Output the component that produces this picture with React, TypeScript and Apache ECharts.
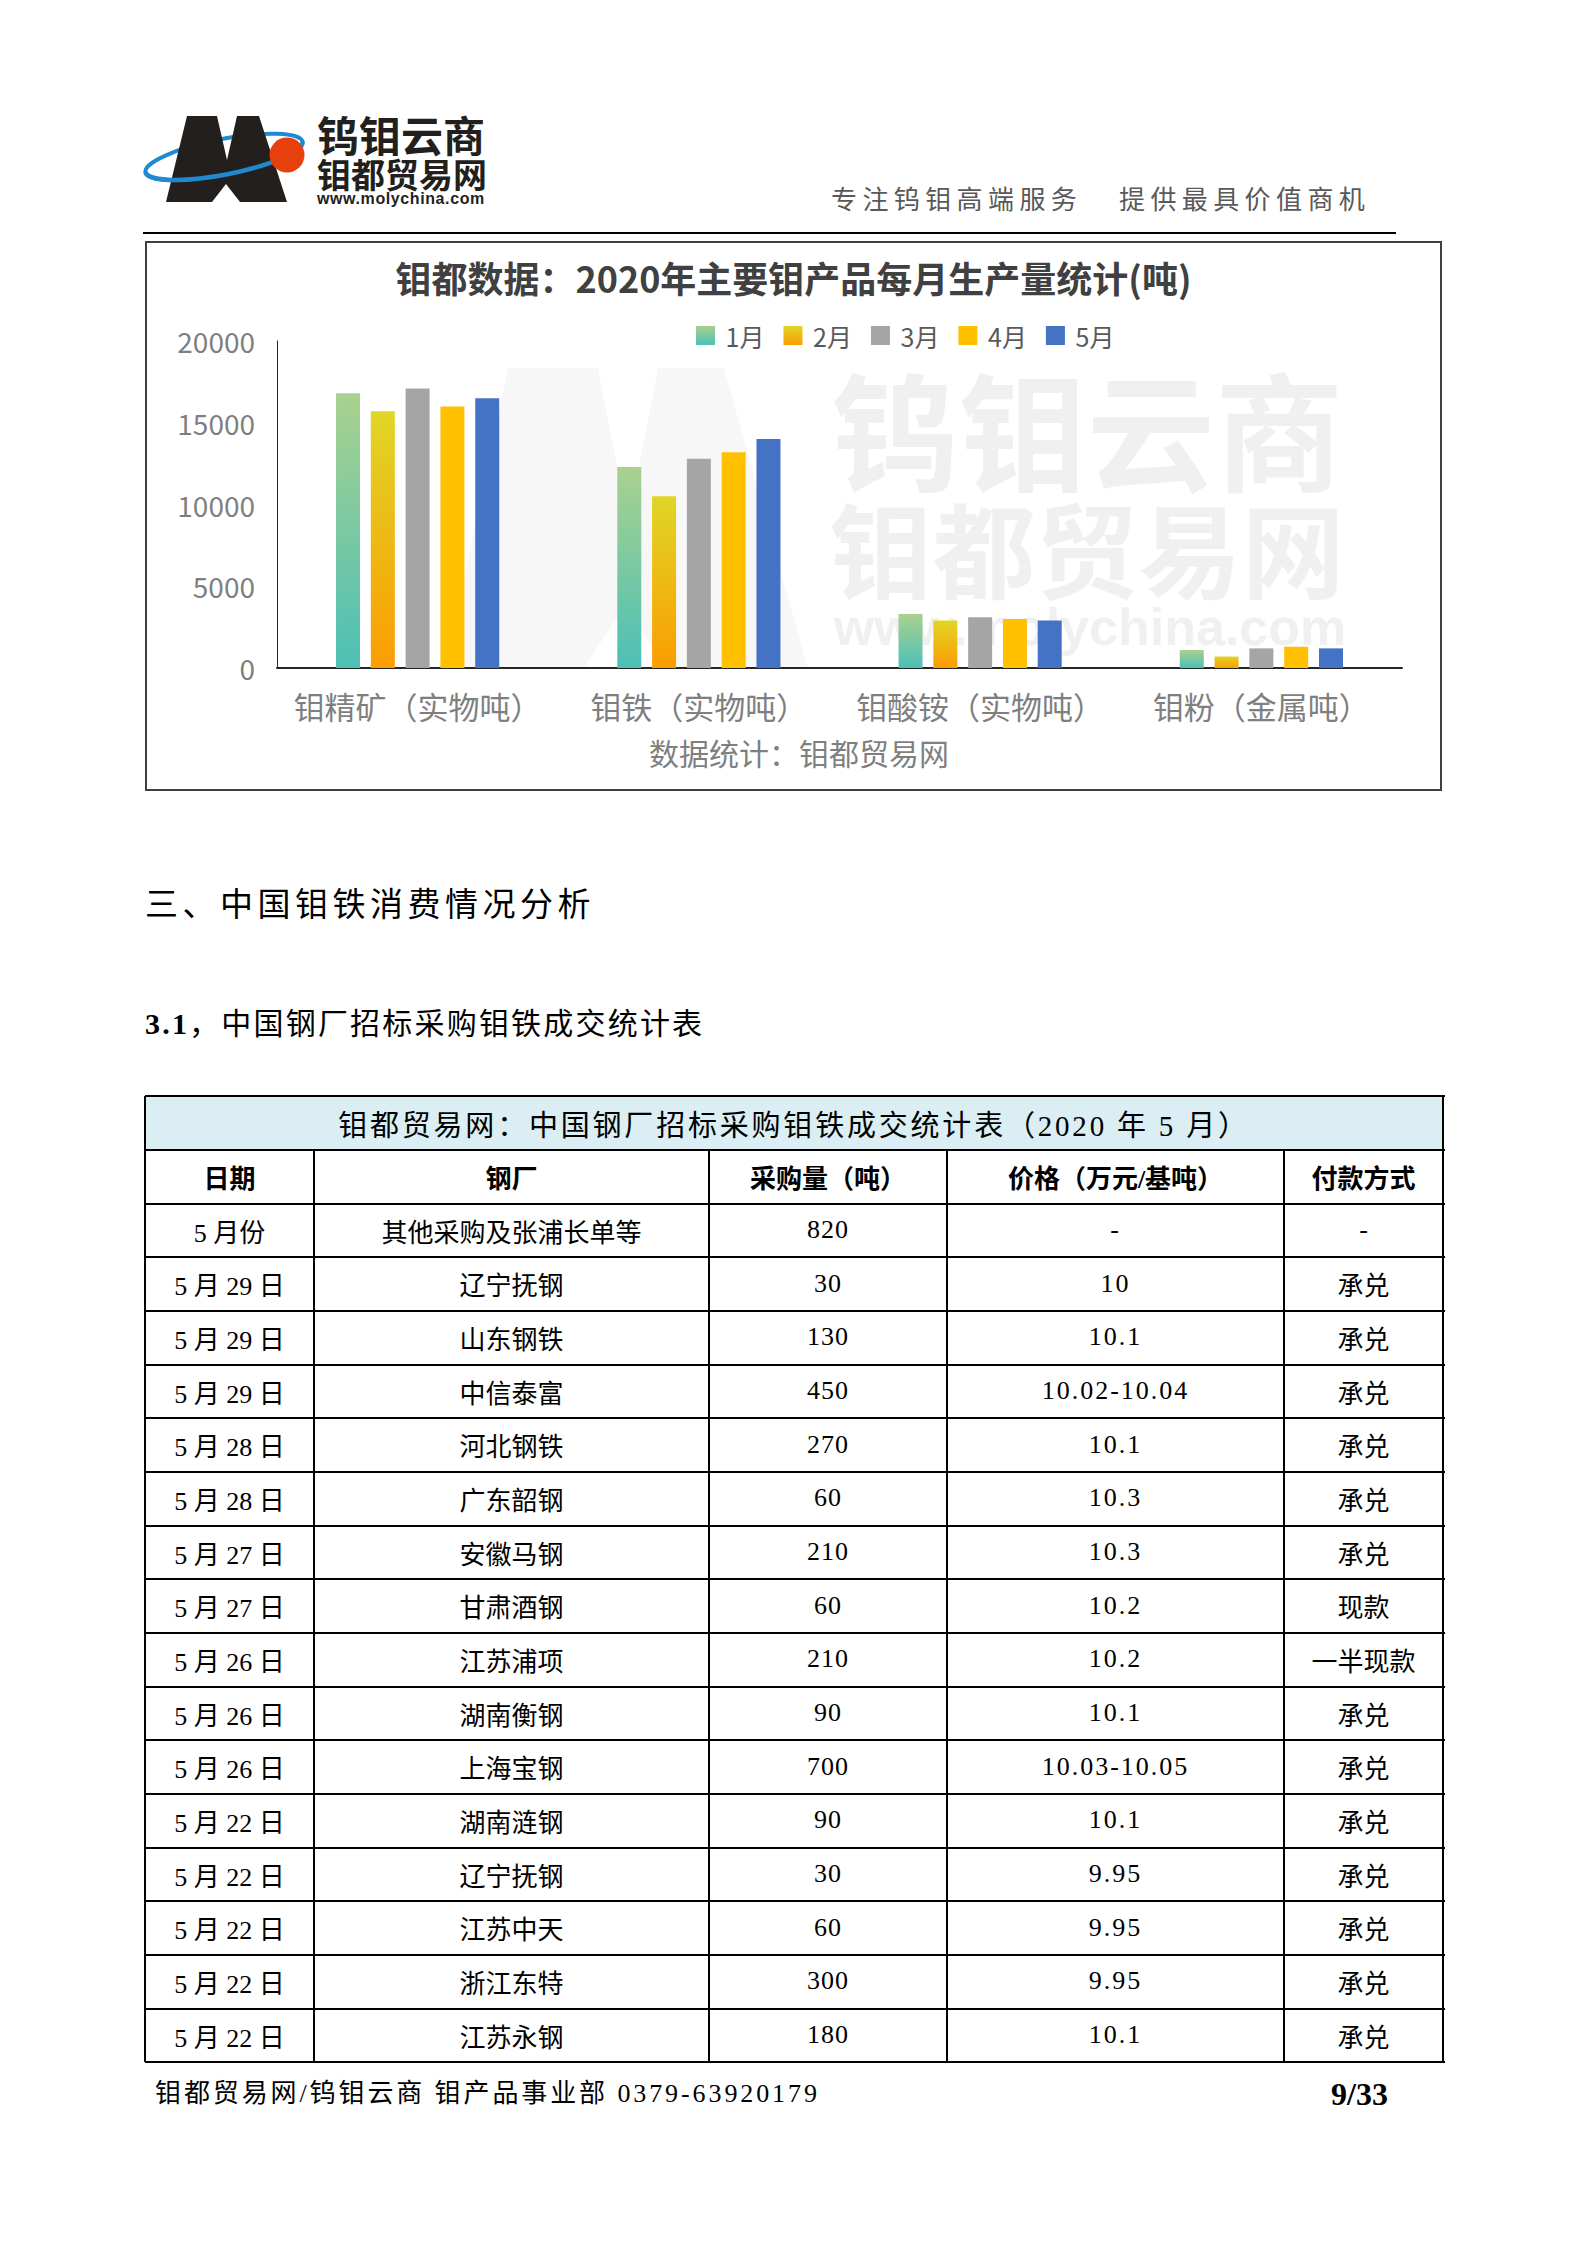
import React, { useEffect, useRef } from "react";
import * as echarts from "echarts";

// ---------------- data ----------------
const categories = ["钼精矿（实物吨）", "钼铁（实物吨）", "钼酸铵（实物吨）", "钼粉（金属吨）"];
const months = ["1月", "2月", "3月", "4月", "5月"];
const jan = [16800, 12300, 3300, 1100];
const feb = [15700, 10500, 2900, 700];
const mar = [17100, 12800, 3100, 1200];
const apr = [16000, 13200, 3000, 1300];
const may = [16500, 14000, 2900, 1200];
const seriesValues = [jan, feb, mar, apr, may];
const yMin = 0;
const yMax = 20000;
const yInterval = 5000;

const chartTitle = "钼都数据：2020年主要钼产品每月生产量统计(吨)";
const chartSource = "数据统计：钼都贸易网";

const tableTitle = "钼都贸易网：中国钢厂招标采购钼铁成交统计表（2020 年 5 月）";
const tableHeaders = ["日期", "钢厂", "采购量（吨）", "价格（万元/基吨）", "付款方式"];
const dates = ["5 月份", "5 月 29 日", "5 月 29 日", "5 月 29 日", "5 月 28 日", "5 月 28 日", "5 月 27 日", "5 月 27 日", "5 月 26 日", "5 月 26 日", "5 月 26 日", "5 月 22 日", "5 月 22 日", "5 月 22 日", "5 月 22 日", "5 月 22 日"];
const mills = ["其他采购及张浦长单等", "辽宁抚钢", "山东钢铁", "中信泰富", "河北钢铁", "广东韶钢", "安徽马钢", "甘肃酒钢", "江苏浦项", "湖南衡钢", "上海宝钢", "湖南涟钢", "辽宁抚钢", "江苏中天", "浙江东特", "江苏永钢"];
const quantities = ["820", "30", "130", "450", "270", "60", "210", "60", "210", "90", "700", "90", "30", "60", "300", "180"];
const prices = ["-", "10", "10.1", "10.02-10.04", "10.1", "10.3", "10.3", "10.2", "10.2", "10.1", "10.03-10.05", "10.1", "9.95", "9.95", "9.95", "10.1"];
const payments = ["-", "承兑", "承兑", "承兑", "承兑", "承兑", "承兑", "现款", "一半现款", "承兑", "承兑", "承兑", "承兑", "承兑", "承兑", "承兑"];

// ---------------- styles ----------------
const CJK = '"Noto Sans CJK SC", sans-serif';
const MIX = '"Liberation Serif", "Noto Sans CJK SC", serif';

const grad = (top: string, bottom: string) => ({
  type: "linear",
  x: 0,
  y: 0,
  x2: 0,
  y2: 1,
  colorStops: [
    { offset: 0, color: top },
    { offset: 1, color: bottom },
  ],
});
const seriesColors: any[] = [
  grad("#a9d18e", "#4cc0b6"),
  grad("#e0d526", "#fb9d02"),
  "#a5a5a5",
  "#ffc000",
  "#4472c4",
];

function Chart() {
  const ref = useRef<HTMLDivElement>(null);
  useEffect(() => {
    if (!ref.current) return;
    const chart = echarts.init(ref.current, undefined, { renderer: "svg" });
    const option: any = {
      animation: false,
      textStyle: { fontFamily: CJK },
      title: {
        text: chartTitle,
        left: "center",
        top: 11,
        textStyle: { fontSize: 36, fontWeight: "bold", color: "#404040", fontFamily: CJK },
      },
      legend: {
        data: months,
        left: 544,
        top: 75,
        icon: "rect",
        itemWidth: 19,
        itemHeight: 19,
        itemGap: 19,
        formatter: " {name}",
        textStyle: { fontSize: 25, color: "#595959", fontFamily: CJK },
      },
      grid: { left: 130, right: 38, top: 98, bottom: 121 },
      xAxis: {
        type: "category",
        data: categories,
        axisLine: { lineStyle: { color: "#262626", width: 2 } },
        axisTick: { show: false },
        axisLabel: { fontSize: 31, color: "#7f7f7f", margin: 22, interval: 0, fontFamily: CJK },
      },
      yAxis: {
        type: "value",
        min: yMin,
        max: yMax,
        interval: yInterval,
        axisLine: { show: true, lineStyle: { color: "#262626", width: 1 } },
        axisTick: { show: false },
        splitLine: { show: false },
        axisLabel: {
          fontSize: 28,
          color: "#7f7f7f",
          margin: 22,
          fontFamily: CJK,
          formatter: (v: number) => String(v),
        },
      },
      graphic: [
        {
          type: "polygon",
          z: -10,
          silent: true,
          shape: {
            points: [
              [298, 426], [361, 125], [451, 125], [481, 279], [511, 125],
              [577, 125], [661, 426], [520, 426], [478, 363], [436, 426],
            ],
          },
          style: { fill: "#f7f7f7" },
        },
        {
          type: "text",
          z: -9,
          silent: true,
          x: 940,
          y: 183,
          style: {
            text: "钨钼云商",
            fontSize: 128,
            fontWeight: "bold",
            fontFamily: CJK,
            fill: "#f0f0f0",
            textAlign: "center",
            textVerticalAlign: "middle",
          },
        },
        {
          type: "text",
          z: -9,
          silent: true,
          x: 940,
          y: 303,
          style: {
            text: "钼都贸易网",
            fontSize: 103,
            fontWeight: "bold",
            fontFamily: CJK,
            fill: "#f0f0f0",
            textAlign: "center",
            textVerticalAlign: "middle",
          },
        },
        {
          type: "text",
          z: -9,
          silent: true,
          x: 943,
          y: 384,
          style: {
            text: "www.molychina.com",
            fontSize: 52,
            fontWeight: "bold",
            fontFamily: '"Liberation Sans", sans-serif',
            fill: "#f0f0f0",
            textAlign: "center",
            textVerticalAlign: "middle",
          },
        },
        {
          type: "text",
          x: 652,
          y: 509,
          style: {
            text: chartSource,
            fontSize: 30,
            fontFamily: CJK,
            fill: "#7f7f7f",
            textAlign: "center",
            textVerticalAlign: "middle",
          },
        },
      ],
      series: months.map((m, i) => ({
        name: m,
        type: "bar",
        data: seriesValues[i],
        barWidth: 24,
        barGap: "45%",
        itemStyle: { color: seriesColors[i] },
      })),
    };
    chart.setOption(option);
    return () => chart.dispose();
  }, []);
  return <div ref={ref} style={{ width: 1293, height: 546 }} />;
}

function Logo() {
  return (
    <svg
      width={370}
      height={120}
      viewBox="0 0 370 120"
      style={{ position: "absolute", left: 140, top: 100 }}
    >
      <ellipse cx={84} cy={57} rx={80} ry={18} transform="rotate(-11 84 57)" fill="none" stroke="#1f8ad2" strokeWidth={4} />
      <polygon
        points="26,102 47,16 77,16 87,60 97,16 119,16 147,102 100,102 86,84 72,102"
        fill="#231f1c"
      />
      <path d="M5.5 72.3 A80 18 -11 0 0 162.5 41.7" fill="none" stroke="#1f8ad2" strokeWidth={4.5} />
      <circle cx={147} cy={55} r={17.5} fill="#e8400c" />
    </svg>
  );
}

const abs = (left: number, top: number, extra: any = {}) => ({
  position: "absolute" as const,
  left,
  top,
  whiteSpace: "nowrap" as const,
  ...extra,
});

function Table() {
  const colX = [145, 314, 709, 947, 1284, 1443];
  const top = 1096;
  const bottom = 2062;
  const nRows = 18;
  const rowH = (bottom - top) / nRows;
  const lines: any[] = [];
  const lw = 1.5;
  for (let i = 0; i <= nRows; i++) {
    const y = top + i * rowH;
    lines.push(
      <div key={"h" + i} style={{ position: "absolute", left: colX[0], top: Math.round(y - lw / 2), width: colX[5] - colX[0] + lw, height: lw, background: "#000" }} />
    );
  }
  colX.forEach((x, j) => {
    const y0 = j === 0 || j === colX.length - 1 ? top : top + rowH;
    lines.push(
      <div key={"v" + j} style={{ position: "absolute", left: Math.round(x - lw / 2), top: Math.round(y0), width: lw, height: Math.round(bottom - y0), background: "#000" }} />
    );
  });

  const cell = (key: string, x0: number, x1: number, rowIdx: number, text: string, extra: any = {}) => (
    <div
      key={key}
      style={{
        position: "absolute",
        left: x0,
        top: top + rowIdx * rowH,
        width: x1 - x0,
        height: rowH,
        display: "flex",
        alignItems: "center",
        justifyContent: "center",
        fontFamily: MIX,
        fontSize: 26,
        color: "#000",
        whiteSpace: "nowrap",
        ...extra,
      }}
    >
      {text}
    </div>
  );

  const cells: any[] = [];
  cells.push(
    <div key="bg" style={{ position: "absolute", left: colX[0], top, width: colX[5] - colX[0], height: rowH, background: "#daeef3" }} />
  );
  cells.push(cell("title", colX[0], colX[5], 0, tableTitle, { fontSize: 29, letterSpacing: 2.8 }));
  tableHeaders.forEach((h, j) => cells.push(cell("hd" + j, colX[j], colX[j + 1], 1, h, { fontWeight: "bold" })));
  dates.forEach((d, i) => {
    const r = i + 2;
    cells.push(cell("d" + i, colX[0], colX[1], r, d));
    cells.push(cell("m" + i, colX[1], colX[2], r, mills[i]));
    cells.push(cell("q" + i, colX[2], colX[3], r, quantities[i], { letterSpacing: 1 }));
    cells.push(cell("p" + i, colX[3], colX[4], r, prices[i], { letterSpacing: 2 }));
    cells.push(cell("f" + i, colX[4], colX[5], r, payments[i]));
  });
  return (
    <>
      {cells}
      {lines}
    </>
  );
}

export default function App() {
  return (
    <div
      style={{
        position: "absolute",
        left: 0,
        top: 0,
        width: 1587,
        height: 2245,
        background: "#fff",
        overflow: "hidden",
        fontFamily: CJK,
        color: "#000",
      }}
    >
      <Logo />
      <div style={abs(317, 113, { fontFamily: CJK, fontWeight: "bold", fontSize: 42, lineHeight: "42px", color: "#231f1c" })}>钨钼云商</div>
      <div style={abs(317, 158, { fontFamily: CJK, fontWeight: "bold", fontSize: 34, lineHeight: "32px", color: "#231f1c" })}>钼都贸易网</div>
      <div style={abs(317, 192, { fontFamily: '"Liberation Sans", sans-serif', fontWeight: "bold", fontSize: 16, lineHeight: "14px", letterSpacing: 0.6, color: "#231f1c" })}>www.molychina.com</div>

      <div style={abs(831, 185, { fontFamily: CJK, fontSize: 26, lineHeight: "26px", letterSpacing: 5.4, color: "#595959" })}>专注钨钼高端服务</div>
      <div style={abs(1119, 185, { fontFamily: CJK, fontSize: 26, lineHeight: "26px", letterSpacing: 5.4, color: "#595959" })}>提供最具价值商机</div>

      <div style={{ position: "absolute", left: 143, top: 232, width: 1253, height: 2, background: "#000" }} />

      <div
        style={{
          position: "absolute",
          left: 145,
          top: 241,
          width: 1297,
          height: 550,
          boxSizing: "border-box",
          border: "2px solid #404040",
          background: "#fff",
        }}
      >
        <Chart />
      </div>

      <div style={abs(145, 889, { fontFamily: MIX, fontSize: 33, lineHeight: "33px", letterSpacing: 4.5 })}>三、中国钼铁消费情况分析</div>
      <div style={abs(145, 1009, { fontFamily: MIX, fontSize: 30, lineHeight: "30px", letterSpacing: 2.2 })}>
        <span style={{ fontWeight: "bold" }}>3.1</span>，中国钢厂招标采购钼铁成交统计表
      </div>

      <Table />

      <div style={abs(155, 2081, { fontFamily: MIX, fontSize: 26, lineHeight: "26px", letterSpacing: 2.9 })}>钼都贸易网/钨钼云商 钼产品事业部 0379-63920179</div>
      <div style={abs(1331, 2080, { fontFamily: MIX, fontSize: 32, lineHeight: "28px", fontWeight: "bold" })}>9/33</div>
    </div>
  );
}
